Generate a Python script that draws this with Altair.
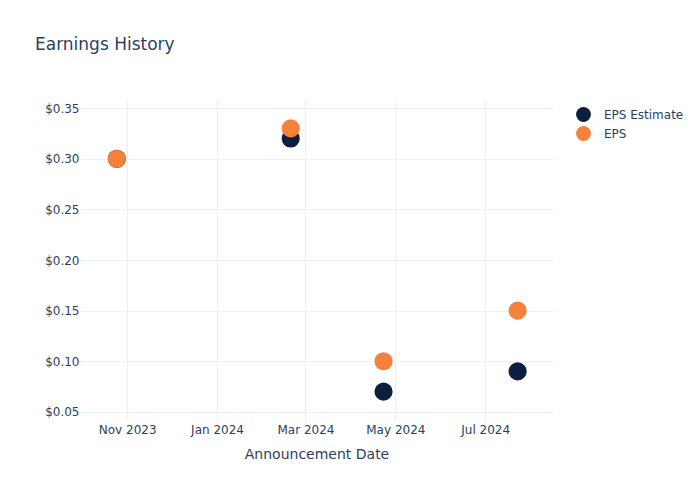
import altair as alt
import pandas as pd

dates = ["2023-10-25", "2024-02-20", "2024-04-23", "2024-07-23"]
eps_estimate = [0.30, 0.32, 0.07, 0.09]
eps_actual = [0.30, 0.33, 0.10, 0.15]
series_names = ["EPS Estimate", "EPS"]
series_colors = ["#0c1f3f", "#f5813a"]
x_tick_dates = ["2023-11-01", "2024-01-01", "2024-03-01", "2024-05-01", "2024-07-01"]
y_ticks = [0.05, 0.10, 0.15, 0.20, 0.25, 0.30, 0.35]

rows = []
for d, v in zip(dates, eps_estimate):
    rows.append({"date": d, "value": v, "series": "EPS Estimate", "o": 0})
for d, v in zip(dates, eps_actual):
    rows.append({"date": d, "value": v, "series": "EPS", "o": 1})
df = pd.DataFrame(rows)

FONT = "DejaVu Sans"
TXT = "#2a3f5f"
GRID = "#ebf0f8"

def dt(s):
    y, m, d = [int(p) for p in s.split("-")]
    return alt.DateTime(year=y, month=m, date=d, utc=True)

x = alt.X(
    "date:T",
    title="Announcement Date",
    scale=alt.Scale(type="utc", domain=[dt("2023-09-30"), dt("2024-08-16")], nice=False),
    axis=alt.Axis(
        values=[dt(s) for s in x_tick_dates],
        format="%b %Y",
        ticks=False,
        domain=False,
        grid=True,
        gridColor=GRID,
        gridWidth=1,
        labelFont=FONT,
        labelFontSize=12,
        labelColor=TXT,
        labelPadding=4,
        titleFont=FONT,
        titleFontSize=14,
        titleFontWeight="normal",
        titleColor=TXT,
        titlePadding=12,
    ),
)
y = alt.Y(
    "value:Q",
    title=None,
    scale=alt.Scale(domain=[0.042, 0.358], nice=False, zero=False),
    axis=alt.Axis(
        values=y_ticks,
        format="$.2f",
        ticks=False,
        domain=False,
        grid=True,
        gridColor=GRID,
        gridWidth=1,
        labelFont=FONT,
        labelFontSize=12,
        labelColor=TXT,
        labelPadding=1,
    ),
)

chart = (
    alt.Chart(df)
    .mark_circle(size=330, opacity=1)
    .encode(
        x=x,
        y=y,
        color=alt.Color(
            "series:N",
            scale=alt.Scale(domain=series_names, range=series_colors),
            legend=alt.Legend(
                title=None,
                orient="none",
                legendX=495,
                legendY=6,
                padding=0,
                symbolSize=220,
                symbolType="circle",
                labelFont=FONT,
                labelFontSize=12,
                labelColor=TXT,
                labelOffset=12,
                rowPadding=3,
            ),
        ),
        order=alt.Order("o:Q"),
    )
    .properties(
        width=473,
        height=320,
        background="white",
        title=alt.TitleParams(
            "Earnings History",
            anchor="start",
            frame="group",
            dx=-45,
            offset=46,
            font=FONT,
            fontSize=17,
            fontWeight="normal",
            color=TXT,
        ),
        autosize=alt.AutoSizeParams(type="none"),
        padding={"left": 80, "top": 100, "right": 147, "bottom": 80},
    )
    .configure_view(strokeWidth=0)
)

chart.save("out.html", embed_options={"renderer": "svg", "actions": False})
